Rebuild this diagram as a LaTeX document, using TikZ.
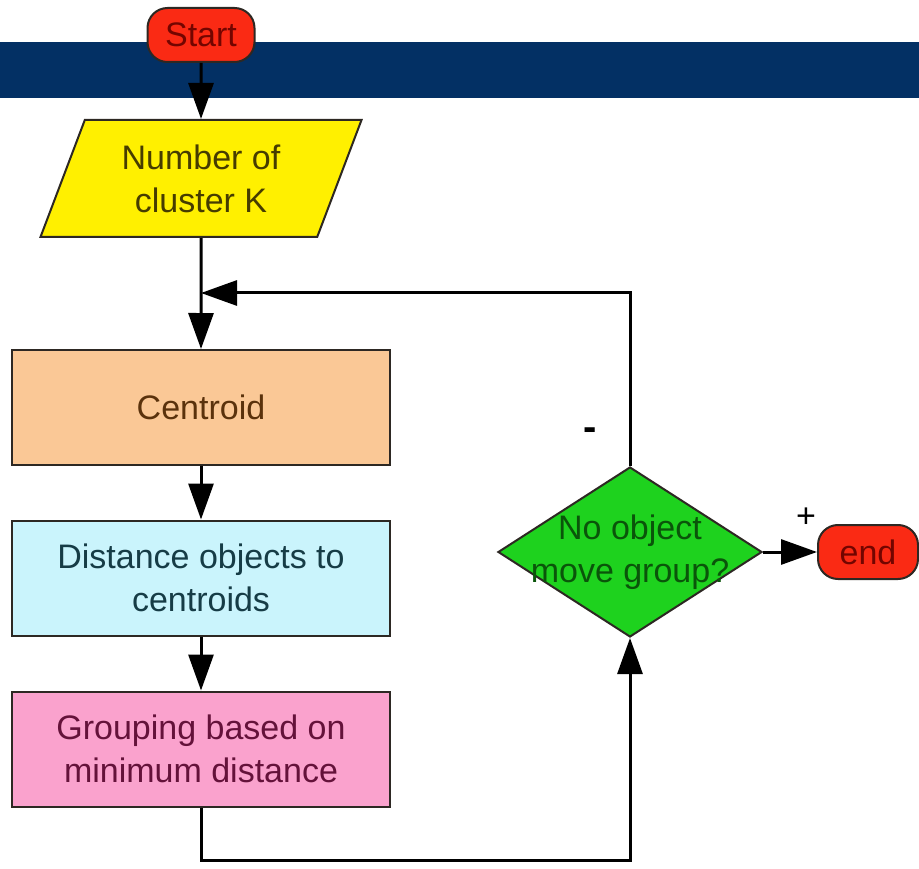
\documentclass[tikz,border=0pt]{standalone}
\usepackage{fontspec}
\setmainfont{Liberation Sans}
\usetikzlibrary{shapes.geometric, arrows.meta, positioning}

\definecolor{bandblue}{RGB}{3,48,100}
\definecolor{termred}{RGB}{250,42,20}
\definecolor{termtext}{RGB}{115,5,0}
\definecolor{inyellow}{RGB}{255,240,0}
\definecolor{intext}{RGB}{70,60,0}
\definecolor{peach}{RGB}{250,200,150}
\definecolor{peachtext}{RGB}{90,50,12}
\definecolor{lightcyan}{RGB}{202,244,252}
\definecolor{cyantext}{RGB}{22,60,70}
\definecolor{lightpink}{RGB}{250,162,205}
\definecolor{pinktext}{RGB}{100,18,58}
\definecolor{decgreen}{RGB}{30,210,30}
\definecolor{dectext}{RGB}{10,85,10}
\definecolor{edge}{RGB}{45,40,35}

\tikzset{
  terminal/.style={draw=edge, line width=2pt, fill=termred, text=termtext,
    rounded corners=20pt, minimum height=54pt, inner sep=0pt},
  inputbox/.style={trapezium, trapezium left angle=66, trapezium right angle=114,
    trapezium stretches=true, draw=edge, line width=2pt, fill=inyellow, text=intext,
    minimum width=322pt, minimum height=117pt, inner sep=0pt, align=center},
  stepbox/.style={rectangle, draw=edge, line width=2pt, minimum width=378pt,
    minimum height=115pt, inner sep=0pt, align=center},
  decision/.style={diamond, draw=edge, line width=2pt, fill=decgreen, text=dectext,
    minimum width=264pt, minimum height=170pt, inner xsep=-60pt, inner ysep=-30pt,
    align=center},
}

\begin{document}
\begin{tikzpicture}[x=1pt, y=-1pt, >={Triangle[length=36pt, width=25pt]},
  line width=3pt, font=\fontsize{34}{43}\selectfont]
\useasboundingbox (0,0) rectangle (919,869);
\fill[bandblue] (0,42) rectangle (919,98);
%
\node[terminal, minimum width=107pt] (start) at (201,35) {Start};
\node[inputbox] (input) at (201,178.5) {Number of\\cluster K};
\node[stepbox, fill=peach, text=peachtext] (centroid) at (201,407.5) {Centroid};
\node[stepbox, fill=lightcyan, text=cyantext] (distance) at (201,578) {Distance objects to\\centroids};
\node[stepbox, fill=lightpink, text=pinktext] (grouping) at (201,749) {Grouping based on\\minimum distance};
\node[decision] (decide) at (630,552) {No object\\move group?};
\node[terminal, minimum width=100pt] (finish) at (868,552) {end};
\coordinate (loop in) at (201,293);
\coordinate (loop base) at (201,860);
%
\draw[->] (start) -- (input);
\draw[->] (input) -- (centroid);
\draw[->] (centroid) -- (distance);
\draw[->] (distance) -- (grouping);
\draw[->] (grouping) -- (loop base) -| (decide);
\draw[->] (decide) |- (loop in);
\draw[->] (decide) -- (finish);
\node[font=\fontsize{40}{43}\bfseries\selectfont] (minus) at (590,434) {-};
\node (plus) at (806,518) {+};
\end{tikzpicture}
\end{document}
